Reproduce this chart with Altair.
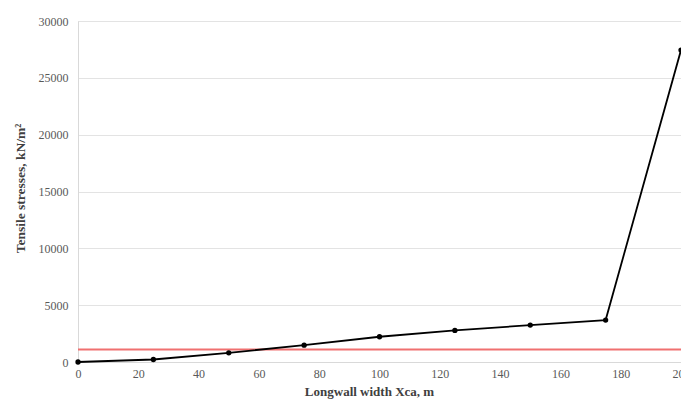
import altair as alt
import pandas as pd

widths = [0, 25, 50, 75, 100, 125, 150, 175, 200]
stresses = [0, 220, 810, 1480, 2220, 2780, 3245, 3690, 27440]
limit_value = 1100
x_ticks = [0, 20, 40, 60, 80, 100, 120, 140, 160, 180, 200]
y_ticks = [0, 5000, 10000, 15000, 20000, 25000, 30000]

df = pd.DataFrame({"x": widths, "y": stresses})
limit_df = pd.DataFrame({"x": [0], "x2": [200], "y": [limit_value]})

FONT = "Liberation Serif"

x_scale = alt.Scale(domain=[0, 200], nice=False, zero=True)
y_scale = alt.Scale(domain=[0, 30000], nice=False)

x_axis = alt.Axis(
    values=x_ticks, title="Longwall width Xca, m", grid=False, ticks=False,
    domainColor="#d9d9d9", labelColor="#595959", labelFont=FONT, labelFontSize=12,
    labelPadding=6, titleFont=FONT, titleFontSize=13, titleFontWeight="bold",
    titleColor="#404040", titleX=291, titleY=29, titleAlign="center",
    titleBaseline="middle", labelFlush=False, format="d",
)
y_axis = alt.Axis(
    values=y_ticks, title="Tensile stresses, kN/m²", grid=True, gridColor="#e3e3e3",
    ticks=False, domainColor="#d9d9d9", labelColor="#595959", labelFont=FONT,
    labelFontSize=12, labelPadding=10, titleFont=FONT, titleFontSize=13.5,
    titleFontWeight="bold", titleColor="#404040", titleX=-58, titleY=167,
    titleBaseline="middle", titleAlign="center", titleAngle=-90, format="d",
)

line = alt.Chart(df).mark_line(color="black", strokeWidth=1.8).encode(
    x=alt.X("x:Q", scale=x_scale, axis=x_axis),
    y=alt.Y("y:Q", scale=y_scale, axis=y_axis),
)
points = alt.Chart(df).mark_point(filled=True, color="black", size=28, opacity=1).encode(
    x=alt.X("x:Q", scale=x_scale),
    y=alt.Y("y:Q", scale=y_scale),
)
rule = alt.Chart(limit_df).mark_rule(color="#f07070", strokeWidth=1.8).encode(
    x=alt.X("x:Q", scale=x_scale),
    x2="x2:Q",
    y=alt.Y("y:Q", scale=y_scale),
)

chart = alt.layer(rule, line, points).properties(
    width=603, height=341,
    autosize=alt.AutoSizeParams(type="none"),
    padding={"left": 70, "top": 13, "right": 0, "bottom": 38},
).configure_view(stroke=None).configure(background="white")

chart.save("out.html", embed_options={"renderer": "svg", "actions": False})
